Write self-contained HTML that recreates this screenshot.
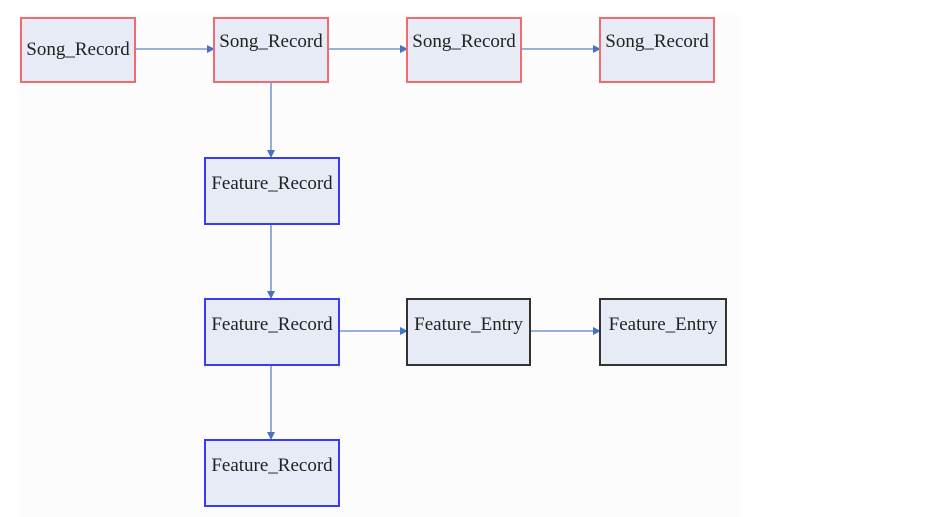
<!DOCTYPE html>
<html><head><style>
body{margin:0;width:927px;height:517px;background:#fff;position:relative;overflow:hidden;font-family:"Liberation Serif",serif;}
.bg{position:absolute;left:20px;top:15px;width:720px;height:502px;background:#fcfcfc;}
.b{position:absolute;box-sizing:border-box;background:#e6ebf5;font-size:19px;line-height:20px;color:#222;text-align:center;white-space:nowrap;}
.r{border:2px solid #f26a6e;}
.u{border:2px solid #3b3bef;}
.k{border:2px solid #333;}
</style></head><body>
<div class="bg"></div>
<svg width="927" height="517" style="position:absolute;left:0;top:0">
<defs><marker id="a" markerWidth="8" markerHeight="8" refX="7" refY="4" orient="auto" markerUnits="userSpaceOnUse"><path d="M0,0 L8,4 L0,8z" fill="#4a72c0"/></marker></defs>
<g stroke="#5b82c8" stroke-width="1.3" fill="none" marker-end="url(#a)">
<line x1="135" y1="49" x2="214" y2="49"/>
<line x1="328" y1="49" x2="407" y2="49"/>
<line x1="521" y1="49" x2="600" y2="49"/>
<line x1="271" y1="83" x2="271" y2="157"/>
<line x1="271" y1="224" x2="271" y2="298"/>
<line x1="271" y1="365" x2="271" y2="439"/>
<line x1="339" y1="331" x2="407" y2="331"/>
<line x1="530" y1="331" x2="600" y2="331"/>
</g></svg>
<div class="b r" style="left:20px;top:17px;width:116px;height:66px;padding-top:21px">Song_Record</div>
<div class="b r" style="left:213px;top:17px;width:116px;height:66px;padding-top:13px">Song_Record</div>
<div class="b r" style="left:406px;top:17px;width:116px;height:66px;padding-top:13px">Song_Record</div>
<div class="b r" style="left:599px;top:17px;width:116px;height:66px;padding-top:13px">Song_Record</div>
<div class="b u" style="left:204px;top:157px;width:136px;height:68px;padding-top:15px">Feature_Record</div>
<div class="b u" style="left:204px;top:298px;width:136px;height:68px;padding-top:15px">Feature_Record</div>
<div class="b u" style="left:204px;top:439px;width:136px;height:68px;padding-top:15px">Feature_Record</div>
<div class="b k" style="left:406px;top:298px;width:125px;height:68px;padding-top:15px">Feature_Entry</div>
<div class="b k" style="left:599px;top:298px;width:128px;height:68px;padding-top:15px">Feature_Entry</div>
</body></html>
